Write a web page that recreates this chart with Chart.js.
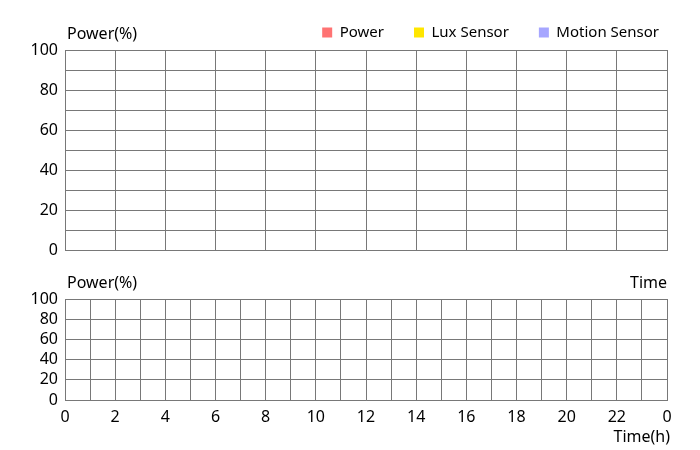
<!DOCTYPE html>
<html>
<head>
<meta charset="utf-8">
<script src="https://cdn.jsdelivr.net/npm/chart.js@4/dist/chart.umd.min.js"></script>
<style>
html,body{margin:0;padding:0;background:#fff;}
#wrap{position:relative;width:700px;height:450px;}
#c1{position:absolute;left:0;top:0;}
#c2{position:absolute;left:0;top:260px;}
</style>
</head>
<body>
<div id="wrap">
<canvas id="c1" width="700" height="267"></canvas>
<canvas id="c2" width="700" height="190"></canvas>
</div>
<script>
// ---- data ----
const seriesNames = ['Power', 'Lux Sensor', 'Motion Sensor'];
const seriesColors = ['#ff7373', '#ffe600', '#a6a6ff'];
const powerValues = [];
const luxValues = [];
const motionValues = [];
const topXTicks = [0, 2, 4, 6, 8, 10, 12, 14, 16, 18, 20, 22, 24];
const hourLabels = ['0','1','2','3','4','5','6','7','8','9','10','11','12','13','14','15','16','17','18','19','20','21','22','23','0'];
const hourlyPower = [];
const yTicks = [0, 20, 40, 60, 80, 100];

const FONT = '"Noto Sans", sans-serif';
const GRID = '#787878';

function textPlugin(items) {
  return {
    id: 'txt' + Math.random().toString(36).slice(2),
    afterDraw(chart) {
      const ctx = chart.ctx;
      ctx.save();
      ctx.fillStyle = '#000';
      ctx.textBaseline = 'middle';
      items.forEach(it => {
        ctx.font = (it.size || 16) + 'px ' + FONT;
        ctx.textAlign = it.align || 'left';
        const x = typeof it.x === 'function' ? it.x(chart) : it.x;
        ctx.fillText(it.text, x, it.y);
      });
      ctx.restore();
    }
  };
}

// ---- top chart ----
new Chart(document.getElementById('c1'), {
  type: 'line',
  data: {
    datasets: [
      { label: seriesNames[0], data: powerValues, backgroundColor: seriesColors[0], borderColor: seriesColors[0] },
      { label: seriesNames[1], data: luxValues, backgroundColor: seriesColors[1], borderColor: seriesColors[1] },
      { label: seriesNames[2], data: motionValues, backgroundColor: seriesColors[2], borderColor: seriesColors[2] }
    ]
  },
  options: {
    responsive: false,
    animation: false,
    devicePixelRatio: 1,
    layout: { padding: { left: 0, right: 11, top: -5, bottom: 3 } },
    plugins: {
      title: { display: false },
      tooltip: { enabled: false },
      legend: {
        display: true,
        position: 'top',
        align: 'end',
        labels: {
          boxWidth: 10,
          boxHeight: 10,
          padding: 30,
          color: '#000',
          font: { family: FONT, size: 15 },
          generateLabels(chart) {
            return chart.data.datasets.map((d, i) => ({
              text: d.label,
              fillStyle: d.backgroundColor,
              strokeStyle: d.backgroundColor,
              lineWidth: 0,
              hidden: false,
              datasetIndex: i
            }));
          }
        }
      }
    },
    scales: {
      x: {
        type: 'linear',
        min: 0, max: 24,
        afterBuildTicks(scale) { scale.ticks = topXTicks.map(v => ({ value: v })); },
        ticks: { display: false },
        grid: { color: GRID, lineWidth: 1, drawTicks: false },
        border: { color: GRID },
        afterFit(scale) { scale.height = 0; }
      },
      y: {
        min: 0, max: 100,
        ticks: {
          stepSize: 10,
          autoSkip: false,
          padding: 7,
          color: '#000',
          font: { family: FONT, size: 16 },
          callback: v => (yTicks.includes(v) ? String(v) : '')
        },
        grid: { color: GRID, lineWidth: 1, drawTicks: false },
        border: { color: GRID },
        afterFit(scale) { scale.width = 65; }
      },
      yRight: {
        position: 'right',
        display: true,
        min: 0, max: 100,
        ticks: { display: false },
        grid: { display: false, drawTicks: false },
        border: { display: false },
        afterFit(scale) { scale.width = 22; }
      }
    }
  },
  plugins: [textPlugin([
    { text: 'Power(%)', x: c => c.chartArea.left + 2, y: 34, size: 16 }
  ])]
});

// ---- bottom chart ----
new Chart(document.getElementById('c2'), {
  type: 'line',
  data: {
    labels: hourLabels,
    datasets: [
      { label: seriesNames[0], data: hourlyPower, backgroundColor: seriesColors[0], borderColor: seriesColors[0] }
    ]
  },
  options: {
    responsive: false,
    animation: false,
    devicePixelRatio: 1,
    layout: { padding: { left: 0, right: 33, top: 39, bottom: 0 } },
    plugins: { legend: { display: false }, tooltip: { enabled: false } },
    scales: {
      x: {
        type: 'category',
        offset: false,
        ticks: {
          autoSkip: false,
          maxRotation: 0,
          padding: 8,
          color: '#000',
          font: { family: FONT, size: 16 },
          callback(v, i) { return i % 2 === 0 ? hourLabels[i] : ''; }
        },
        grid: { color: GRID, lineWidth: 1, drawTicks: false, offset: false },
        border: { color: GRID },
        afterFit(scale) { scale.height = 50; }
      },
      y: {
        min: 0, max: 100,
        afterBuildTicks(scale) { scale.ticks = yTicks.map(v => ({ value: v })); },
        ticks: {
          autoSkip: false,
          padding: 7,
          color: '#000',
          font: { family: FONT, size: 16 }
        },
        grid: { color: GRID, lineWidth: 1, drawTicks: false },
        border: { color: GRID },
        afterFit(scale) { scale.width = 65; }
      }
    }
  },
  plugins: [textPlugin([
    { text: 'Power(%)', x: c => c.chartArea.left + 2, y: 23, size: 16 },
    { text: 'Time', x: c => c.chartArea.right, y: 23, size: 16, align: 'right' },
    { text: 'Time(h)', x: c => c.chartArea.right + 3, y: 177, size: 16, align: 'right' }
  ])]
});
</script>
</body>
</html>
